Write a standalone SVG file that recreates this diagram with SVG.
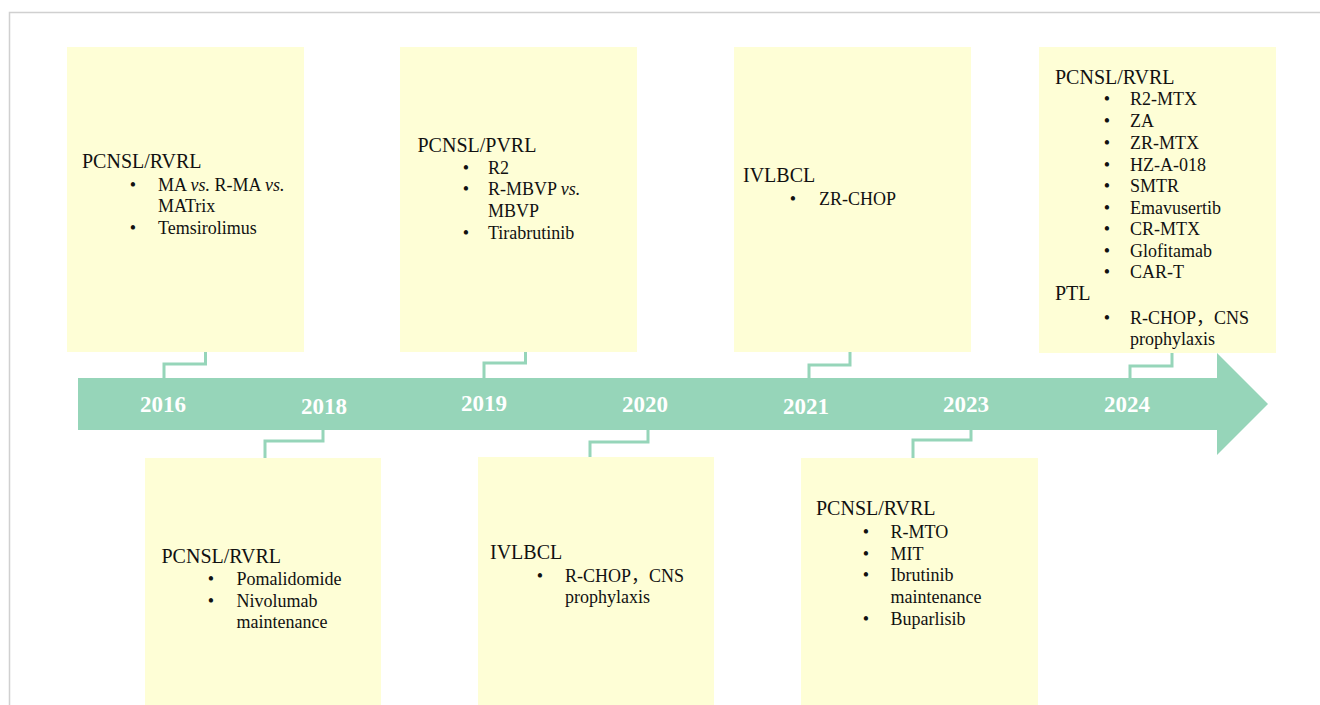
<svg xmlns="http://www.w3.org/2000/svg" width="1320" height="705" viewBox="0 0 1320 705">
<style>
.box{fill:#FEFED6}
.hd{font-family:"Liberation Serif","Times New Roman",serif;font-size:20px;fill:#111}
.it{font-family:"Liberation Serif","Times New Roman","Noto Sans CJK SC",serif;font-size:18px;fill:#111}
.bl{font-family:"Liberation Serif","Times New Roman",serif;font-size:18px;fill:#111;text-anchor:middle}
.yr{font-family:"Liberation Serif","Times New Roman",serif;font-size:23px;font-weight:bold;fill:#fff;text-anchor:middle}
.cn{fill:none;stroke:#96D5B9;stroke-width:3}
</style>
<rect width="1320" height="705" fill="#fff"/>
<path d="M9.5,705 V12.5 H1320" fill="none" stroke="#d0d0d0" stroke-width="1.5"/>

<g id="timeline">
<path d="M78,378 H1217 V353 L1268,404 L1217,455 V430 H78 Z" fill="#96D5B9"/>
<text class="yr" x="163" y="412">2016</text>
<text class="yr" x="324" y="414">2018</text>
<text class="yr" x="484" y="411">2019</text>
<text class="yr" x="645" y="412">2020</text>
<text class="yr" x="806" y="414">2021</text>
<text class="yr" x="966" y="412">2023</text>
<text class="yr" x="1127" y="412">2024</text>
</g>

<g id="connectors">
<path class="cn" d="M205.5,352 V364 H164 V378"/>
<path class="cn" d="M323,430 V441 H265 V458"/>
<path class="cn" d="M525.5,352 V363 H484 V378"/>
<path class="cn" d="M648,430 V442 H590 V457"/>
<path class="cn" d="M850,352 V365 H809 V378"/>
<path class="cn" d="M971,430 V440 H913 V458"/>
<path class="cn" d="M1172,353 V366 H1130 V378"/>
</g>

<g id="n2016">
<rect class="box" x="67" y="47" width="237" height="305"/>
<text class="hd" x="82" y="167.5">PCNSL/RVRL</text>
<text class="bl" x="133" y="190.5">•</text>
<text class="it" x="158" y="190.5">MA <tspan font-style="italic">vs.</tspan> R-MA <tspan font-style="italic">vs.</tspan></text>
<text class="it" x="158" y="212">MATrix</text>
<text class="bl" x="133" y="233.5">•</text>
<text class="it" x="158" y="233.5">Temsirolimus</text>
</g>

<g id="n2018">
<rect class="box" x="145" y="458" width="236" height="247"/>
<text class="hd" x="161.5" y="562.5">PCNSL/RVRL</text>
<text class="bl" x="211" y="585">•</text>
<text class="it" x="236.5" y="585">Pomalidomide</text>
<text class="bl" x="211" y="606.5">•</text>
<text class="it" x="236.5" y="606.5">Nivolumab</text>
<text class="it" x="236.5" y="628">maintenance</text>
</g>

<g id="n2019">
<rect class="box" x="400" y="47" width="237" height="305"/>
<text class="hd" x="417.5" y="151.5">PCNSL/PVRL</text>
<text class="bl" x="466" y="173.5">•</text>
<text class="it" x="488" y="173.5">R2</text>
<text class="bl" x="466" y="195">•</text>
<text class="it" x="488" y="195">R-MBVP <tspan font-style="italic">vs.</tspan></text>
<text class="it" x="488" y="216.5">MBVP</text>
<text class="bl" x="466" y="238.5">•</text>
<text class="it" x="488" y="238.5">Tirabrutinib</text>
</g>

<g id="n2020">
<rect class="box" x="478" y="457" width="236" height="248"/>
<text class="hd" x="490" y="558.5">IVLBCL</text>
<text class="bl" x="540" y="581.5">•</text>
<text class="it" x="565" y="581.5">R-CHOP，CNS</text>
<text class="it" x="565" y="602.5">prophylaxis</text>
</g>

<g id="n2021">
<rect class="box" x="734" y="47" width="237" height="305"/>
<text class="hd" x="743" y="181.5">IVLBCL</text>
<text class="bl" x="793" y="205">•</text>
<text class="it" x="819" y="205">ZR-CHOP</text>
</g>

<g id="n2023">
<rect class="box" x="801" y="458" width="237" height="247"/>
<text class="hd" x="816" y="515">PCNSL/RVRL</text>
<text class="bl" x="866" y="537.5">•</text>
<text class="it" x="890.5" y="537.5">R-MTO</text>
<text class="bl" x="866" y="559.5">•</text>
<text class="it" x="890.5" y="559.5">MIT</text>
<text class="bl" x="866" y="581">•</text>
<text class="it" x="890.5" y="581">Ibrutinib</text>
<text class="it" x="890.5" y="602.5">maintenance</text>
<text class="bl" x="866" y="624.5">•</text>
<text class="it" x="890.5" y="624.5">Buparlisib</text>
</g>

<g id="n2024">
<rect class="box" x="1039" y="47" width="237" height="306"/>
<text class="hd" x="1055" y="83.5">PCNSL/RVRL</text>
<text class="bl" x="1107" y="105">•</text><text class="it" x="1130" y="105">R2-MTX</text>
<text class="bl" x="1107" y="127">•</text><text class="it" x="1130" y="127">ZA</text>
<text class="bl" x="1107" y="149">•</text><text class="it" x="1130" y="149">ZR-MTX</text>
<text class="bl" x="1107" y="170.5">•</text><text class="it" x="1130" y="170.5">HZ-A-018</text>
<text class="bl" x="1107" y="192">•</text><text class="it" x="1130" y="192">SMTR</text>
<text class="bl" x="1107" y="213.5">•</text><text class="it" x="1130" y="213.5">Emavusertib</text>
<text class="bl" x="1107" y="235">•</text><text class="it" x="1130" y="235">CR-MTX</text>
<text class="bl" x="1107" y="256.5">•</text><text class="it" x="1130" y="256.5">Glofitamab</text>
<text class="bl" x="1107" y="278">•</text><text class="it" x="1130" y="278">CAR-T</text>
<text class="hd" x="1055" y="300">PTL</text>
<text class="bl" x="1107" y="323.5">•</text><text class="it" x="1130" y="323.5">R-CHOP，CNS</text>
<text class="it" x="1130" y="344.5">prophylaxis</text>
</g>
</svg>
